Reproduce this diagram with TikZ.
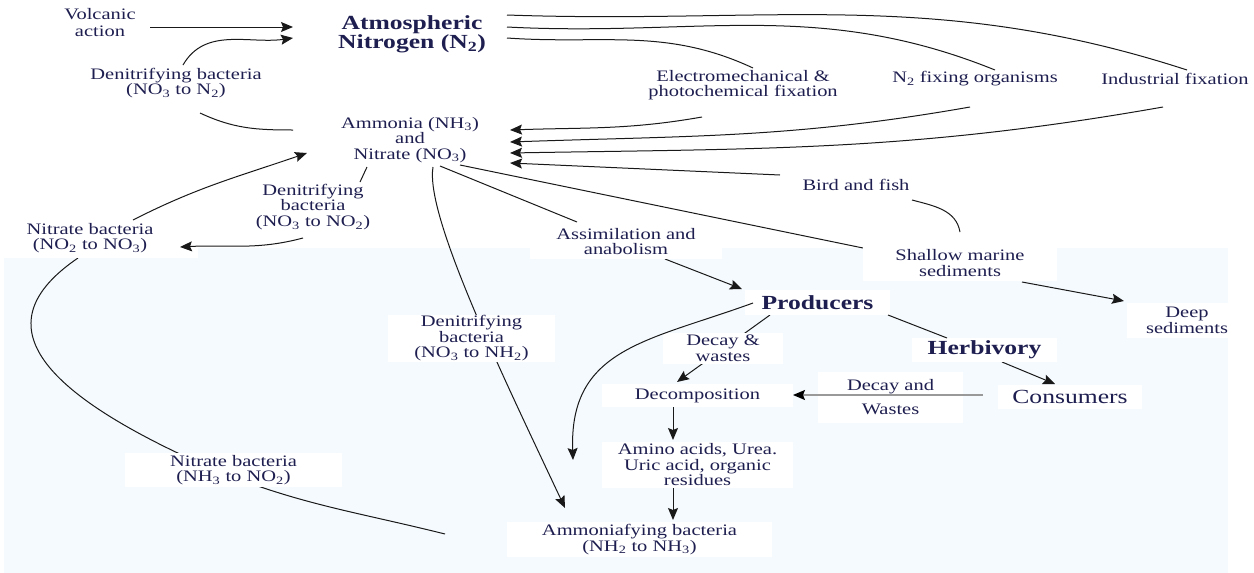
\documentclass[tikz,border=0pt]{standalone}
\usepackage{fontspec}
\setmainfont{Liberation Serif}[FakeStretch=1.28]
\usetikzlibrary{arrows.meta,calc}
\definecolor{txt}{RGB}{30,30,80}
\definecolor{bgblue}{RGB}{245,250,254}
\definecolor{ln}{RGB}{25,25,25}
\pgfdeclarelayer{bg}
\pgfdeclarelayer{lines}
\pgfsetlayers{bg,lines,main}
\tikzset{
  lbl/.style={text=txt, align=center, inner sep=0pt, font=\fontsize{16}{15.5}\selectfont},
  big/.style={text=txt, align=center, inner sep=0pt, font=\fontsize{20}{18}\selectfont\bfseries},
  wbox/.style={lbl, fill=white},
  con/.style={draw=ln, line width=1pt},
  arr/.style={con, -{Stealth[length=12pt,width=10pt,inset=2pt]}},
}
\begin{document}
\begin{tikzpicture}[x=1pt,y=1pt]
\useasboundingbox (0,0) rectangle (1254,-573);
\begin{pgfonlayer}{bg}
  \fill[bgblue] (4,-248) rectangle (1228,-573);
\end{pgfonlayer}

% nodes
\node[lbl] (volc) at (100,-23) {Volcanic\\[1.5pt]action};
\node[big] (atm) at (412,-34) {Atmospheric\\Nitrogen (N\textsubscript{2})};
\node[lbl] (denN2) at (176,-83) {Denitrifying bacteria\\(NO\textsubscript{3} to N\textsubscript{2})};
\node[lbl] (amm) at (410,-140) {Ammonia (NH\textsubscript{3})\\and\\Nitrate (NO\textsubscript{3})};
\node[lbl] (electro) at (743,-85) {Electromechanical \&\\photochemical fixation};
\node[lbl] (n2fix) at (975,-79) {N\textsubscript{2} fixing organisms};
\node[lbl] (indus) at (1175,-79) {Industrial fixation};
\node[lbl] (bird) at (856,-185) {Bird and fish};
\node[lbl] (denNO2) at (313,-207) {Denitrifying\\bacteria\\(NO\textsubscript{3} to NO\textsubscript{2})};
\node[wbox, minimum width=194pt, minimum height=18pt] (nitNO2bg) at (101,-249) {};
\node[lbl] (nitNO2) at (90,-238) {Nitrate bacteria\\(NO\textsubscript{2} to NO\textsubscript{3})};
\node[wbox, minimum width=192pt, minimum height=35pt] (assim) at (626,-241.5) {Assimilation and\\anabolism};
\node[wbox, minimum width=194pt, minimum height=36pt] (shallow) at (960,-263) {Shallow marine\\sediments};
\node[wbox, minimum width=120pt, minimum height=35pt] (deep) at (1187,-320.5) {Deep\\sediments};
\node[big, fill=white, minimum width=145pt, minimum height=25pt] (prod) at (817.5,-302.5) {Producers};
\node[big, fill=white, minimum width=145pt, minimum height=24pt] (herb) at (984.5,-350) {Herbivory};
\node[wbox, minimum width=120pt, minimum height=31pt] (decay1) at (723,-348.5) {Decay \&\\wastes};
\node[wbox, font=\fontsize{20}{20}\selectfont, minimum width=144pt, minimum height=24pt] (cons) at (1070,-397) {Consumers};
\node[wbox, minimum width=145pt, minimum height=51pt] (decay2) at (890.5,-397.5) {Decay and\\[8.5pt]Wastes};
\node[wbox, minimum width=191pt, minimum height=23pt] (decomp) at (697.5,-395.5) {Decomposition};
\node[wbox, minimum width=191pt, minimum height=46pt] (amino) at (697.5,-465) {Amino acids, Urea.\\Uric acid, organic\\residues};
\node[wbox, minimum width=265pt, minimum height=35pt] (ammonif) at (639.5,-539.5) {Ammoniafying bacteria\\(NH\textsubscript{2} to NH\textsubscript{3})};
\node[wbox, minimum width=167pt, minimum height=47pt] (denNH2) at (471.5,-338.5) {Denitrifying\\bacteria\\(NO\textsubscript{3} to NH\textsubscript{2})};
\node[wbox, minimum width=217pt, minimum height=34pt] (nitNH3) at (233.5,-470) {Nitrate bacteria\\(NH\textsubscript{3} to NO\textsubscript{2})};
\coordinate (freeend) at (573,-460);

% connectors under the boxes
\begin{pgfonlayer}{lines}
\draw[arr] ($(volc)+(50,-4)$) -- ($(atm)+(-119,7)$);
\draw[arr] ($(denN2)+(7,18)$) to[out=60,in=188] ($(atm)+(-119,-4)$);
\draw[con] ($(amm)+(-117,10)$) to[out=180,in=-25] ($(denN2)+(24,-30)$);
\draw[arr] ($(nitNO2)+(43,18)$) to[out=27,in=199] ($(amm)+(-103,-13)$);
\draw[con] ($(amm)+(-43,-27)$) -- ($(denNO2)+(47,25)$);
\draw[con] ($(ammonif)+(-194.5,5.5)$) to[out=166,in=-22] ($(nitNH3)+(-18.5,0)$)
   .. controls (20,-385) and (-10,-318) .. ($(nitNO2)+(-12,-20)$);
\draw[arr] ($(amm)+(23,-27)$) .. controls (425,-215) and (500,-370) .. ($(ammonif)+(-74.5,31.5)$);
\draw[con] ($(amm)+(30,-26)$) -- ($(assim)+(-49,19.5)$);
\draw[arr] ($(assim)+(39,-17.5)$) -- ($(prod)+(-75.5,13.5)$);
\draw[con] ($(amm)+(50,-25)$) -- ($(shallow)+(-97,15)$);
\draw[con] ($(bird)+(56,-15)$) to[out=-15,in=100] ($(shallow)+(0,31)$);
\draw[arr] ($(bird)+(-76,10)$) -- ($(amm)+(100,-23)$);
\draw[arr] ($(electro)+(-41,-32)$) to[out=190,in=2] ($(amm)+(100,10)$);
\draw[arr] ($(n2fix)+(-5,-28)$) to[out=190,in=2] ($(amm)+(100,-2)$);
\draw[arr] ($(indus)+(-12,-28)$) to[out=190,in=1] ($(amm)+(100,-13)$);
\draw[con] ($(atm)+(95,19)$) to[out=-2,in=162] ($(indus)+(12,9)$);
\draw[con] ($(atm)+(95,7)$) to[out=-3,in=158] ($(n2fix)+(20,9)$);
\draw[con] ($(atm)+(95,-4)$) to[out=-4,in=155] ($(electro)+(10,17)$);
\draw[arr] ($(herb)+(17.5,-12)$) -- ($(cons)+(-15,13)$);
\draw[arr] ($(prod)+(-47.5,-12.5)$) -- ($(decomp)+(-20.5,13.5)$);
\draw[arr] ($(decomp)+(-24.5,-11.5)$) -- ($(amino)+(-24.5,25)$);
\draw[arr] ($(amino)+(-24.5,-23)$) -- ($(ammonif)+(33.5,19.5)$);
\draw[arr] ($(shallow)+(62,-19)$) -- ($(deep)+(-63,19.5)$);
\end{pgfonlayer}

% connectors over the boxes
\draw[arr] ($(denNO2)+(-10,-31)$) to[out=195,in=3] ($(nitNO2)+(90,-9)$);
\draw[con] ($(prod)+(70.5,-12.5)$) -- ($(herb)+(-37.5,12)$);
\draw[arr] ($(prod)+(-64.5,-0.5)$) to[out=200,in=92,looseness=1.2] (freeend);
\draw[draw=gray!80, line width=1.2pt, -{Stealth[length=12pt,width=10pt,inset=2pt,black]}] ($(cons)+(-87,2)$) -- ($(decomp)+(95.5,0.5)$);
\end{tikzpicture}
\end{document}
